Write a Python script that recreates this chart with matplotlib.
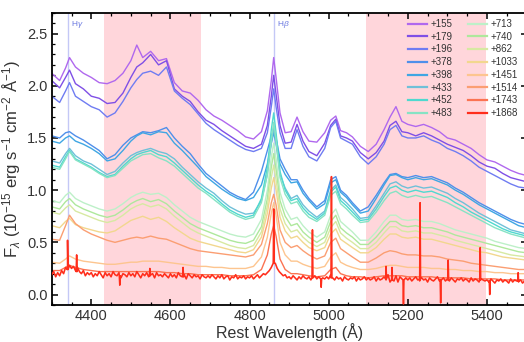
import numpy as np
import matplotlib
matplotlib.use('Agg')
import matplotlib.pyplot as plt

plt.rcParams['font.family'] = ['Liberation Sans', 'DejaVu Sans']
plt.rcParams['mathtext.fontset'] = 'custom'
plt.rcParams['mathtext.rm'] = 'Liberation Sans'
plt.rcParams['mathtext.it'] = 'Liberation Sans:italic'

# ------------ data -------------------------------------
# common wavelength grid for the smooth spectra (Angstrom)
wave = [4300, 4320, 4335, 4345, 4360, 4380, 4400, 4420, 4440, 4460,
        4480, 4500, 4515, 4530, 4550, 4570, 4590, 4610, 4630, 4650,
        4670, 4690, 4710, 4730, 4750, 4770, 4790, 4810, 4830, 4845,
        4855, 4861, 4867, 4877, 4890, 4905, 4920, 4935, 4950, 4970,
        4990, 5005, 5018, 5030, 5045, 5060, 5080, 5100, 5120, 5140,
        5155, 5170, 5185, 5200, 5220, 5240, 5260, 5280, 5300, 5320,
        5340, 5360, 5380, 5400, 5420, 5440, 5460, 5480, 5500]

phases = ['+155', '+179', '+196', '+378', '+398', '+433', '+452', '+483',
          '+713', '+740', '+862', '+1033', '+1451', '+1514', '+1743', '+1868']

colors = ['#b068ee', '#7f4fe6', '#6f7cf2', '#4f8fea', '#3fa6e3', '#6fc0d8',
          '#4fd9cf', '#86e3c4', '#bdf0c8', '#aee89c', '#d7e9a2', '#f2d78e',
          '#fdc58f', '#fb9e72', '#fb7352', '#ff2e1c']

f155 = [2.12, 2.05, 2.17, 2.27, 2.18, 2.12, 2.08, 2.03, 2.02, 2.05,
        2.12, 2.24, 2.39, 2.27, 2.33, 2.24, 2.26, 2.03, 1.95, 1.93,
        1.86, 1.77, 1.71, 1.67, 1.62, 1.57, 1.51, 1.49, 1.56, 1.76,
        2.05, 2.27, 2.08, 1.74, 1.55, 1.56, 1.70, 1.56, 1.47, 1.46,
        1.55, 1.67, 1.71, 1.57, 1.55, 1.51, 1.42, 1.37, 1.44, 1.58,
        1.70, 1.80, 1.66, 1.63, 1.61, 1.63, 1.60, 1.56, 1.50, 1.48,
        1.44, 1.40, 1.34, 1.29, 1.27, 1.23, 1.19, 1.16, 1.14]
f179 = [2.05, 1.98, 2.08, 2.15, 2.02, 1.97, 1.90, 1.88, 1.83, 1.84,
        1.93, 2.08, 2.18, 2.22, 2.30, 2.20, 2.24, 1.97, 1.90, 1.85,
        1.75, 1.67, 1.63, 1.57, 1.52, 1.47, 1.42, 1.40, 1.44, 1.62,
        1.90, 2.10, 1.92, 1.62, 1.45, 1.46, 1.63, 1.47, 1.37, 1.33,
        1.45, 1.62, 1.68, 1.52, 1.50, 1.47, 1.36, 1.30, 1.36, 1.47,
        1.62, 1.66, 1.56, 1.55, 1.52, 1.55, 1.52, 1.48, 1.44, 1.41,
        1.38, 1.33, 1.27, 1.23, 1.21, 1.16, 1.12, 1.10, 1.08]
f196 = [1.90, 1.84, 1.95, 2.03, 1.90, 1.85, 1.80, 1.77, 1.70, 1.74,
        1.85, 1.98, 2.06, 2.12, 2.14, 2.10, 2.18, 1.95, 1.88, 1.82,
        1.73, 1.64, 1.58, 1.53, 1.48, 1.43, 1.39, 1.37, 1.40, 1.55,
        1.80, 1.97, 1.80, 1.55, 1.40, 1.40, 1.58, 1.42, 1.32, 1.28,
        1.40, 1.60, 1.66, 1.50, 1.47, 1.44, 1.32, 1.25, 1.32, 1.44,
        1.58, 1.62, 1.52, 1.50, 1.50, 1.52, 1.48, 1.45, 1.40, 1.37,
        1.33, 1.28, 1.22, 1.18, 1.14, 1.10, 1.06, 1.03, 1.02]
f378 = [1.52, 1.50, 1.55, 1.56, 1.52, 1.48, 1.43, 1.38, 1.30, 1.34,
        1.43, 1.50, 1.53, 1.56, 1.55, 1.57, 1.60, 1.50, 1.42, 1.35,
        1.25, 1.16, 1.10, 1.04, 0.98, 0.94, 0.91, 0.98, 1.18, 1.38,
        1.52, 1.58, 1.50, 1.30, 1.20, 1.10, 1.10, 1.00, 0.92, 0.84,
        0.90, 1.10, 1.13, 1.00, 0.95, 0.88, 0.80, 0.84, 0.95, 1.07,
        1.15, 1.16, 1.13, 1.12, 1.14, 1.12, 1.13, 1.10, 1.07, 1.02,
        0.98, 0.93, 0.88, 0.84, 0.80, 0.76, 0.72, 0.69, 0.67]
f398 = [1.47, 1.45, 1.50, 1.52, 1.47, 1.44, 1.40, 1.35, 1.28, 1.30,
        1.38, 1.47, 1.52, 1.55, 1.53, 1.56, 1.55, 1.45, 1.38, 1.30,
        1.22, 1.13, 1.07, 1.01, 0.96, 0.92, 0.90, 0.93, 1.05, 1.25,
        1.45, 1.55, 1.45, 1.25, 1.15, 1.07, 1.08, 0.97, 0.90, 0.82,
        0.87, 1.07, 1.10, 0.98, 0.93, 0.86, 0.78, 0.80, 0.92, 1.05,
        1.14, 1.15, 1.12, 1.10, 1.12, 1.10, 1.11, 1.08, 1.05, 1.00,
        0.96, 0.91, 0.86, 0.82, 0.78, 0.74, 0.70, 0.66, 0.64]
f433 = [1.28, 1.26, 1.35, 1.40, 1.33, 1.28, 1.25, 1.20, 1.15, 1.18,
        1.26, 1.33, 1.36, 1.38, 1.40, 1.37, 1.35, 1.30, 1.22, 1.15,
        1.08, 1.02, 0.97, 0.90, 0.84, 0.80, 0.77, 0.78, 0.90, 1.15,
        1.45, 1.60, 1.45, 1.15, 1.02, 0.92, 0.95, 0.86, 0.80, 0.74,
        0.80, 1.00, 1.05, 0.93, 0.88, 0.82, 0.73, 0.74, 0.85, 0.97,
        1.06, 1.08, 1.04, 1.02, 1.04, 1.02, 1.03, 1.00, 0.97, 0.92,
        0.88, 0.83, 0.78, 0.74, 0.70, 0.66, 0.62, 0.60, 0.58]
f452 = [1.24, 1.22, 1.32, 1.38, 1.30, 1.26, 1.22, 1.17, 1.13, 1.15,
        1.23, 1.30, 1.34, 1.36, 1.38, 1.34, 1.32, 1.26, 1.19, 1.12,
        1.05, 0.99, 0.94, 0.87, 0.81, 0.77, 0.74, 0.76, 0.92, 1.22,
        1.58, 1.74, 1.55, 1.18, 1.00, 0.90, 0.92, 0.83, 0.77, 0.72,
        0.78, 0.98, 1.03, 0.90, 0.85, 0.79, 0.71, 0.72, 0.82, 0.94,
        1.02, 1.04, 1.00, 0.98, 1.00, 0.98, 0.99, 0.96, 0.93, 0.88,
        0.84, 0.79, 0.75, 0.71, 0.67, 0.63, 0.60, 0.58, 0.56]
f483 = [1.22, 1.20, 1.30, 1.37, 1.29, 1.25, 1.21, 1.16, 1.12, 1.14,
        1.21, 1.28, 1.31, 1.34, 1.35, 1.31, 1.28, 1.23, 1.16, 1.09,
        1.02, 0.97, 0.91, 0.85, 0.79, 0.75, 0.72, 0.74, 0.88, 1.15,
        1.48, 1.65, 1.48, 1.12, 0.96, 0.87, 0.89, 0.80, 0.74, 0.70,
        0.76, 0.95, 0.99, 0.87, 0.82, 0.76, 0.69, 0.70, 0.79, 0.90,
        0.97, 0.99, 0.95, 0.93, 0.95, 0.93, 0.94, 0.91, 0.88, 0.84,
        0.80, 0.76, 0.72, 0.68, 0.64, 0.61, 0.58, 0.56, 0.54]
f713 = [0.90, 0.88, 0.95, 0.98, 0.92, 0.88, 0.85, 0.82, 0.80, 0.82,
        0.87, 0.93, 0.96, 0.98, 0.96, 0.97, 0.93, 0.86, 0.80, 0.74,
        0.70, 0.67, 0.64, 0.61, 0.58, 0.56, 0.55, 0.58, 0.72, 1.00,
        1.32, 1.45, 1.30, 0.98, 0.82, 0.72, 0.74, 0.66, 0.60, 0.55,
        0.60, 0.76, 0.82, 0.70, 0.65, 0.60, 0.52, 0.52, 0.60, 0.70,
        0.76, 0.76, 0.72, 0.71, 0.72, 0.70, 0.70, 0.68, 0.65, 0.62,
        0.60, 0.58, 0.56, 0.54, 0.51, 0.49, 0.47, 0.45, 0.44]
f740 = [0.84, 0.82, 0.89, 0.92, 0.86, 0.82, 0.79, 0.76, 0.74, 0.76,
        0.81, 0.87, 0.90, 0.92, 0.89, 0.91, 0.87, 0.80, 0.74, 0.68,
        0.64, 0.61, 0.58, 0.55, 0.52, 0.50, 0.49, 0.52, 0.65, 0.92,
        1.22, 1.35, 1.20, 0.90, 0.75, 0.66, 0.68, 0.60, 0.55, 0.50,
        0.55, 0.70, 0.76, 0.64, 0.59, 0.55, 0.48, 0.48, 0.55, 0.64,
        0.70, 0.70, 0.66, 0.65, 0.66, 0.64, 0.64, 0.62, 0.60, 0.57,
        0.55, 0.53, 0.51, 0.49, 0.47, 0.45, 0.43, 0.41, 0.40]
f862 = [0.79, 0.77, 0.83, 0.86, 0.80, 0.77, 0.74, 0.71, 0.69, 0.71,
        0.76, 0.82, 0.85, 0.87, 0.84, 0.86, 0.82, 0.75, 0.69, 0.63,
        0.59, 0.56, 0.53, 0.50, 0.47, 0.45, 0.44, 0.47, 0.60, 0.85,
        1.12, 1.24, 1.10, 0.82, 0.68, 0.60, 0.62, 0.55, 0.50, 0.46,
        0.50, 0.64, 0.70, 0.59, 0.54, 0.50, 0.44, 0.44, 0.50, 0.59,
        0.65, 0.65, 0.61, 0.60, 0.61, 0.59, 0.59, 0.57, 0.55, 0.52,
        0.50, 0.48, 0.46, 0.44, 0.42, 0.40, 0.38, 0.37, 0.36]
f1033 = [0.66, 0.64, 0.70, 0.73, 0.67, 0.64, 0.62, 0.60, 0.59, 0.61,
         0.66, 0.71, 0.73, 0.75, 0.72, 0.74, 0.70, 0.64, 0.59, 0.54,
         0.51, 0.49, 0.47, 0.45, 0.43, 0.41, 0.40, 0.43, 0.55, 0.78,
         1.02, 1.12, 1.00, 0.74, 0.61, 0.54, 0.56, 0.50, 0.45, 0.42,
         0.45, 0.58, 0.63, 0.53, 0.49, 0.45, 0.40, 0.40, 0.45, 0.53,
         0.58, 0.58, 0.55, 0.54, 0.55, 0.53, 0.53, 0.51, 0.49, 0.47,
         0.45, 0.43, 0.41, 0.40, 0.38, 0.36, 0.35, 0.34, 0.33]
f1451 = [0.31, 0.30, 0.34, 0.37, 0.34, 0.32, 0.31, 0.30, 0.29, 0.29,
         0.30, 0.31, 0.31, 0.32, 0.32, 0.32, 0.31, 0.30, 0.29, 0.28,
         0.27, 0.27, 0.26, 0.26, 0.25, 0.25, 0.25, 0.27, 0.36, 0.55,
         0.78, 0.88, 0.76, 0.50, 0.38, 0.32, 0.32, 0.29, 0.27, 0.25,
         0.27, 0.36, 0.40, 0.31, 0.28, 0.26, 0.24, 0.24, 0.25, 0.27,
         0.28, 0.28, 0.27, 0.26, 0.26, 0.26, 0.25, 0.25, 0.24, 0.24,
         0.23, 0.23, 0.22, 0.22, 0.21, 0.21, 0.20, 0.20, 0.20]
f1514 = [0.53, 0.52, 0.66, 0.76, 0.68, 0.62, 0.58, 0.55, 0.52, 0.50,
         0.52, 0.54, 0.55, 0.54, 0.56, 0.54, 0.53, 0.50, 0.47, 0.44,
         0.42, 0.41, 0.40, 0.39, 0.38, 0.37, 0.36, 0.38, 0.48, 0.68,
         0.88, 0.96, 0.86, 0.62, 0.50, 0.45, 0.47, 0.42, 0.38, 0.34,
         0.37, 0.50, 0.54, 0.44, 0.40, 0.36, 0.31, 0.31, 0.35, 0.40,
         0.42, 0.41, 0.39, 0.38, 0.38, 0.37, 0.37, 0.36, 0.34, 0.33,
         0.32, 0.30, 0.29, 0.28, 0.27, 0.26, 0.25, 0.24, 0.24]
f1743 = [0.23, 0.23, 0.26, 0.28, 0.26, 0.24, 0.23, 0.22, 0.22, 0.22,
         0.22, 0.22, 0.22, 0.22, 0.22, 0.22, 0.21, 0.21, 0.20, 0.20,
         0.19, 0.19, 0.19, 0.19, 0.18, 0.18, 0.18, 0.19, 0.24, 0.38,
         0.58, 0.66, 0.56, 0.34, 0.24, 0.20, 0.20, 0.19, 0.18, 0.17,
         0.18, 0.24, 0.26, 0.20, 0.18, 0.17, 0.17, 0.16, 0.17, 0.18,
         0.18, 0.18, 0.18, 0.17, 0.17, 0.17, 0.17, 0.16, 0.16, 0.16,
         0.16, 0.15, 0.15, 0.15, 0.15, 0.14, 0.14, 0.14, 0.14]

# last epoch (+1868): noisy spectrum on a 5 A grid, 4300..5500
wave_late = list(range(4300, 5505, 5))
f1868 = [0.19, 0.22, 0.17, 0.21, 0.18, 0.23, 0.20, 0.26, 0.24, 0.28,
         0.25, 0.27, 0.23, 0.26, 0.22, 0.20, 0.23, 0.18, 0.21, 0.19,
         0.21, 0.17, 0.20, 0.18, 0.22, 0.19, 0.16, 0.21, 0.18, 0.20,
         0.17, 0.22, 0.19, 0.18, 0.21, 0.16, 0.20, 0.19, 0.17, 0.21,
         0.18, 0.20, 0.17, 0.22, 0.19, 0.16, 0.20, 0.18, 0.21, 0.17,
         0.19, 0.20, 0.16, 0.21, 0.18, 0.19, 0.17, 0.20, 0.18, 0.16,
         0.20, 0.17, 0.19, 0.16, 0.21, 0.18, 0.17, 0.19, 0.15, 0.20,
         0.18, 0.16, 0.19, 0.17, 0.18, 0.15, 0.19, 0.17, 0.16, 0.18,
         0.16, 0.19, 0.17, 0.15, 0.18, 0.16, 0.19, 0.15, 0.17, 0.18,
         0.14, 0.17, 0.16, 0.19, 0.15, 0.17, 0.16, 0.18, 0.15, 0.17,
         0.16, 0.18, 0.15, 0.17, 0.19, 0.16, 0.18, 0.20, 0.19, 0.21,
         0.23, 0.26, 0.34, 0.30, 0.25, 0.22, 0.20, 0.18, 0.19, 0.16,
         0.17, 0.15, 0.18, 0.16, 0.14, 0.17, 0.15, 0.18, 0.16, 0.15,
         0.17, 0.14, 0.16, 0.18, 0.15, 0.17, 0.13, 0.16, 0.15, 0.17,
         0.15, 0.19, 0.16, 0.14, 0.17, 0.15, 0.16, 0.13, 0.17, 0.15,
         0.14, 0.16, 0.15, 0.17, 0.13, 0.16, 0.14, 0.15, 0.17, 0.14,
         0.16, 0.14, 0.15, 0.17, 0.13, 0.16, 0.14, 0.15, 0.17, 0.14,
         0.19, 0.12, 0.20, 0.13, 0.18, 0.12, 0.17, 0.15, 0.14, 0.16,
         0.14, 0.16, 0.13, 0.15, 0.17, 0.14, 0.13, 0.16, 0.14, 0.15,
         0.12, 0.16, 0.14, 0.13, 0.15, 0.17, 0.13, 0.14, 0.16, 0.13,
         0.15, 0.13, 0.16, 0.14, 0.12, 0.15, 0.14, 0.16, 0.13, 0.15,
         0.14, 0.12, 0.16, 0.13, 0.15, 0.14, 0.12, 0.15, 0.14, 0.13,
         0.14, 0.12, 0.15, 0.13, 0.11, 0.14, 0.13, 0.15, 0.12, 0.14,
         0.13, 0.11, 0.15, 0.12, 0.14, 0.13, 0.12, 0.14, 0.11, 0.13,
         0.12]
# narrow features in the last epoch: (centre, peak, local level)
late_lines = [(4340, 0.52, 0.24), (4363, 0.38, 0.22), (4472, 0.09, 0.18),
              (4548, 0.25, 0.18), (4632, 0.26, 0.17), (4861, 0.82, 0.30),
              (4959, 0.62, 0.16), (4981, 0.07, 0.15), (5007, 1.13, 0.16),
              (5145, 0.27, 0.15), (5160, 0.26, 0.14), (5189, -0.09, 0.14),
              (5231, 0.88, 0.15), (5283, -0.08, 0.14), (5302, 0.33, 0.14),
              (5383, 0.45, 0.14), (5407, 0.00, 0.13), (5479, 0.21, 0.13)]

spectra = [f155, f179, f196, f378, f398, f433, f452, f483,
           f713, f740, f862, f1033, f1451, f1514, f1743]

shade_regions = [(4432, 4678), (5095, 5398)]
balmer = [(4340.5, r'H$\gamma$'), (4861.3, r'H$\beta$')]

# merge the narrow lines into the late spectrum
lw_pts = list(zip(wave_late, f1868))
for c, peak, base in late_lines:
    lw_pts += [(c - 1.2, base), (c, peak), (c + 1.2, base)]
lw_pts.sort()
late_w = [p[0] for p in lw_pts]
late_f = [p[1] for p in lw_pts]

# ------------ figure ---------------
fig = plt.figure(figsize=(5.24, 3.42), dpi=100)
ax = fig.add_axes([0.0987, 0.1082, 0.9061, 0.8547])

for lo, hi in shade_regions:
    ax.axvspan(lo, hi, color='#ffd6db', lw=0, zorder=0)
for wl, name in balmer:
    ax.axvline(wl, color='#c4c8f6', lw=1.0, zorder=0.5)
    ax.text(wl + 7, 2.585, name, color='#6a78e0', fontsize=6, va='center')

for f, c, lab in zip(spectra, colors[:-1], phases[:-1]):
    ax.plot(wave, f, color=c, lw=1.0, label=lab)
ax.plot(late_w, late_f, color=colors[-1], lw=1.15, label=phases[-1], zorder=3)

ax.set_xlim(4300, 5500)
ax.set_ylim(-0.1, 2.7)
ax.set_xticks([4400, 4600, 4800, 5000, 5200, 5400])
ax.set_yticks([0.0, 0.5, 1.0, 1.5, 2.0, 2.5])
ax.set_xticks(np.arange(4300, 5501, 50), minor=True)
ax.set_yticks(np.arange(-0.1, 2.71, 0.1), minor=True)
ax.tick_params(which='both', direction='in', top=True, right=True,
               labelsize=10.5, labelcolor='#333333')
ax.tick_params(which='major', length=4, width=1.1, pad=3)
ax.tick_params(which='minor', length=2.2, width=0.9)
for s in ax.spines.values():
    s.set_linewidth(1.3)

ax.set_xlabel('Rest Wavelength (Å)', fontsize=11.5, color='#333333', labelpad=0)
ax.set_ylabel(r'F$_\lambda$ (10$^{-15}$ erg s$^{-1}$ cm$^{-2}$ Å$^{-1}$)',
              fontsize=12, color='#333333', labelpad=3)

leg = ax.legend(ncol=2, loc='upper right', bbox_to_anchor=(0.985, 0.985),
                frameon=False, fontsize=7, handlelength=2.0, handletextpad=0.3,
                labelspacing=0.28, columnspacing=1.6, borderaxespad=0,
                borderpad=0.2)
for line in leg.get_lines():
    line.set_linewidth(1.6)
for t in leg.get_texts():
    t.set_color('#333333')

fig.savefig('out.png', dpi=100)
